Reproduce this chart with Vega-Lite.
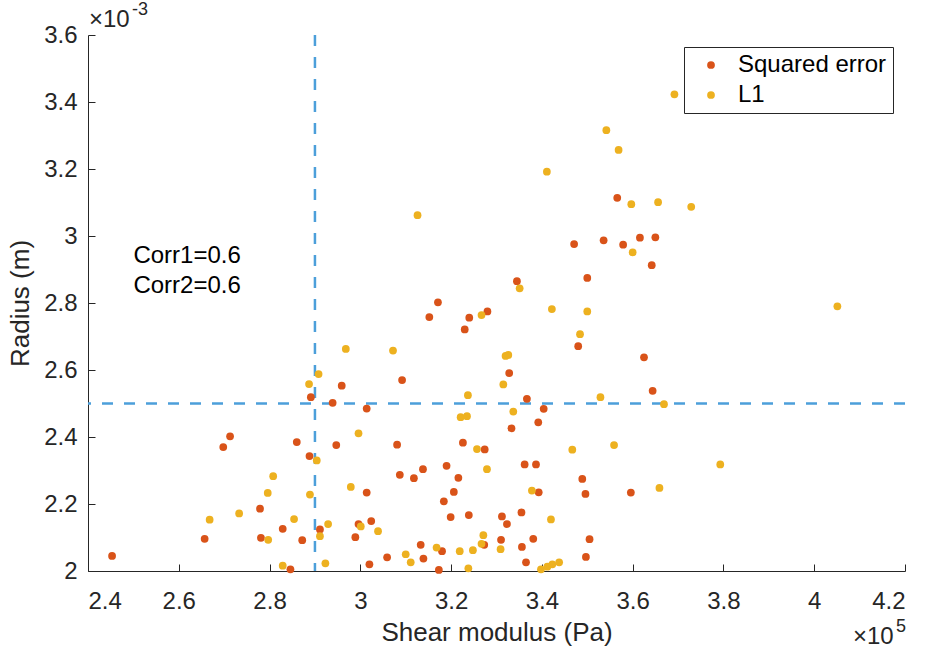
{
  "$schema": "https://vega.github.io/schema/vega-lite/v6.json",
  "width": 817,
  "height": 536,
  "autosize": {"type": "none"},
  "padding": {"left": 88, "top": 35, "right": 20, "bottom": 80},
  "background": "white",
  "config": {
    "view": {"stroke": null},
    "axis": {
      "domainColor": "#262626", "domainWidth": 1, "tickColor": "#262626", "tickWidth": 1, "tickSize": -7,
      "labelFont": "Liberation Sans", "labelFontSize": 24, "labelColor": "#262626",
      "titleFont": "Liberation Sans", "titleFontSize": 26, "titleFontWeight": "normal", "titleColor": "#262626",
      "grid": false
    },
    "legend": {
      "orient": "top-right", "offset": 12, "strokeColor": "#262626", "fillColor": "white", "padding": 6,
      "cornerRadius": 0, "symbolType": "circle", "symbolSize": 60, "symbolOffset": 9, "labelOffset": 15,
      "labelFont": "Liberation Sans", "labelFontSize": 24, "labelColor": "#000000", "labelLimit": 400, "rowPadding": 6
    }
  },
  "datasets": {
    "points": [
      {"series": "Squared error", "shear_modulus": 356600, "radius": 0.003114},
      {"series": "Squared error", "shear_modulus": 347100, "radius": 0.002976},
      {"series": "Squared error", "shear_modulus": 353600, "radius": 0.002987},
      {"series": "Squared error", "shear_modulus": 357900, "radius": 0.002974},
      {"series": "Squared error", "shear_modulus": 361600, "radius": 0.002995},
      {"series": "Squared error", "shear_modulus": 365000, "radius": 0.002996},
      {"series": "Squared error", "shear_modulus": 364200, "radius": 0.002913},
      {"series": "Squared error", "shear_modulus": 334500, "radius": 0.002865},
      {"series": "Squared error", "shear_modulus": 350000, "radius": 0.002875},
      {"series": "Squared error", "shear_modulus": 317100, "radius": 0.002802},
      {"series": "Squared error", "shear_modulus": 315200, "radius": 0.002758},
      {"series": "Squared error", "shear_modulus": 324000, "radius": 0.002756},
      {"series": "Squared error", "shear_modulus": 328000, "radius": 0.002775},
      {"series": "Squared error", "shear_modulus": 323000, "radius": 0.002721},
      {"series": "Squared error", "shear_modulus": 348000, "radius": 0.002671},
      {"series": "Squared error", "shear_modulus": 309200, "radius": 0.002570},
      {"series": "Squared error", "shear_modulus": 332800, "radius": 0.002591},
      {"series": "Squared error", "shear_modulus": 362500, "radius": 0.002638},
      {"series": "Squared error", "shear_modulus": 364400, "radius": 0.002538},
      {"series": "Squared error", "shear_modulus": 336700, "radius": 0.002514},
      {"series": "Squared error", "shear_modulus": 340400, "radius": 0.002484},
      {"series": "Squared error", "shear_modulus": 339200, "radius": 0.002444},
      {"series": "Squared error", "shear_modulus": 295900, "radius": 0.002553},
      {"series": "Squared error", "shear_modulus": 289100, "radius": 0.002519},
      {"series": "Squared error", "shear_modulus": 293900, "radius": 0.002502},
      {"series": "Squared error", "shear_modulus": 301400, "radius": 0.002485},
      {"series": "Squared error", "shear_modulus": 245300, "radius": 0.002045},
      {"series": "Squared error", "shear_modulus": 269800, "radius": 0.002370},
      {"series": "Squared error", "shear_modulus": 271300, "radius": 0.002402},
      {"series": "Squared error", "shear_modulus": 265700, "radius": 0.002096},
      {"series": "Squared error", "shear_modulus": 277900, "radius": 0.002186},
      {"series": "Squared error", "shear_modulus": 278100, "radius": 0.002099},
      {"series": "Squared error", "shear_modulus": 282900, "radius": 0.002126},
      {"series": "Squared error", "shear_modulus": 286000, "radius": 0.002385},
      {"series": "Squared error", "shear_modulus": 288800, "radius": 0.002343},
      {"series": "Squared error", "shear_modulus": 294700, "radius": 0.002376},
      {"series": "Squared error", "shear_modulus": 287200, "radius": 0.002092},
      {"series": "Squared error", "shear_modulus": 291100, "radius": 0.002124},
      {"series": "Squared error", "shear_modulus": 284600, "radius": 0.002005},
      {"series": "Squared error", "shear_modulus": 301400, "radius": 0.002234},
      {"series": "Squared error", "shear_modulus": 299600, "radius": 0.002140},
      {"series": "Squared error", "shear_modulus": 302400, "radius": 0.002149},
      {"series": "Squared error", "shear_modulus": 298900, "radius": 0.002101},
      {"series": "Squared error", "shear_modulus": 302000, "radius": 0.002020},
      {"series": "Squared error", "shear_modulus": 333300, "radius": 0.002426},
      {"series": "Squared error", "shear_modulus": 308100, "radius": 0.002377},
      {"series": "Squared error", "shear_modulus": 308700, "radius": 0.002287},
      {"series": "Squared error", "shear_modulus": 311800, "radius": 0.002277},
      {"series": "Squared error", "shear_modulus": 313800, "radius": 0.002304},
      {"series": "Squared error", "shear_modulus": 305900, "radius": 0.002041},
      {"series": "Squared error", "shear_modulus": 313300, "radius": 0.002078},
      {"series": "Squared error", "shear_modulus": 313900, "radius": 0.002037},
      {"series": "Squared error", "shear_modulus": 318000, "radius": 0.002059},
      {"series": "Squared error", "shear_modulus": 317300, "radius": 0.002003},
      {"series": "Squared error", "shear_modulus": 322600, "radius": 0.002383},
      {"series": "Squared error", "shear_modulus": 319000, "radius": 0.002314},
      {"series": "Squared error", "shear_modulus": 321600, "radius": 0.002278},
      {"series": "Squared error", "shear_modulus": 320600, "radius": 0.002236},
      {"series": "Squared error", "shear_modulus": 318400, "radius": 0.002208},
      {"series": "Squared error", "shear_modulus": 319900, "radius": 0.002161},
      {"series": "Squared error", "shear_modulus": 323900, "radius": 0.002167},
      {"series": "Squared error", "shear_modulus": 327400, "radius": 0.002363},
      {"series": "Squared error", "shear_modulus": 327300, "radius": 0.002078},
      {"series": "Squared error", "shear_modulus": 331200, "radius": 0.002163},
      {"series": "Squared error", "shear_modulus": 332300, "radius": 0.002140},
      {"series": "Squared error", "shear_modulus": 331000, "radius": 0.002093},
      {"series": "Squared error", "shear_modulus": 335500, "radius": 0.002175},
      {"series": "Squared error", "shear_modulus": 335600, "radius": 0.002072},
      {"series": "Squared error", "shear_modulus": 336500, "radius": 0.002026},
      {"series": "Squared error", "shear_modulus": 336200, "radius": 0.002318},
      {"series": "Squared error", "shear_modulus": 338700, "radius": 0.002318},
      {"series": "Squared error", "shear_modulus": 339300, "radius": 0.002235},
      {"series": "Squared error", "shear_modulus": 338100, "radius": 0.002096},
      {"series": "Squared error", "shear_modulus": 348900, "radius": 0.002275},
      {"series": "Squared error", "shear_modulus": 349600, "radius": 0.002230},
      {"series": "Squared error", "shear_modulus": 359600, "radius": 0.002234},
      {"series": "Squared error", "shear_modulus": 350500, "radius": 0.002095},
      {"series": "Squared error", "shear_modulus": 349700, "radius": 0.002042},
      {"series": "L1", "shear_modulus": 312600, "radius": 0.003062},
      {"series": "L1", "shear_modulus": 341100, "radius": 0.003192},
      {"series": "L1", "shear_modulus": 354200, "radius": 0.003316},
      {"series": "L1", "shear_modulus": 356900, "radius": 0.003257},
      {"series": "L1", "shear_modulus": 359700, "radius": 0.003095},
      {"series": "L1", "shear_modulus": 365600, "radius": 0.003101},
      {"series": "L1", "shear_modulus": 369200, "radius": 0.003423},
      {"series": "L1", "shear_modulus": 372900, "radius": 0.003087},
      {"series": "L1", "shear_modulus": 360000, "radius": 0.002951},
      {"series": "L1", "shear_modulus": 335100, "radius": 0.002844},
      {"series": "L1", "shear_modulus": 326700, "radius": 0.002764},
      {"series": "L1", "shear_modulus": 342200, "radius": 0.002782},
      {"series": "L1", "shear_modulus": 350000, "radius": 0.002775},
      {"series": "L1", "shear_modulus": 348400, "radius": 0.002707},
      {"series": "L1", "shear_modulus": 307200, "radius": 0.002658},
      {"series": "L1", "shear_modulus": 332000, "radius": 0.002642},
      {"series": "L1", "shear_modulus": 332600, "radius": 0.002645},
      {"series": "L1", "shear_modulus": 331500, "radius": 0.002557},
      {"series": "L1", "shear_modulus": 352900, "radius": 0.002519},
      {"series": "L1", "shear_modulus": 323700, "radius": 0.002525},
      {"series": "L1", "shear_modulus": 333700, "radius": 0.002476},
      {"series": "L1", "shear_modulus": 366900, "radius": 0.002498},
      {"series": "L1", "shear_modulus": 322100, "radius": 0.002459},
      {"series": "L1", "shear_modulus": 323500, "radius": 0.002462},
      {"series": "L1", "shear_modulus": 405100, "radius": 0.002790},
      {"series": "L1", "shear_modulus": 296800, "radius": 0.002663},
      {"series": "L1", "shear_modulus": 290800, "radius": 0.002588},
      {"series": "L1", "shear_modulus": 288700, "radius": 0.002558},
      {"series": "L1", "shear_modulus": 266800, "radius": 0.002153},
      {"series": "L1", "shear_modulus": 273300, "radius": 0.002172},
      {"series": "L1", "shear_modulus": 280800, "radius": 0.002283},
      {"series": "L1", "shear_modulus": 279600, "radius": 0.002233},
      {"series": "L1", "shear_modulus": 279700, "radius": 0.002093},
      {"series": "L1", "shear_modulus": 285400, "radius": 0.002155},
      {"series": "L1", "shear_modulus": 290400, "radius": 0.002330},
      {"series": "L1", "shear_modulus": 288900, "radius": 0.002228},
      {"series": "L1", "shear_modulus": 292900, "radius": 0.002140},
      {"series": "L1", "shear_modulus": 291100, "radius": 0.002104},
      {"series": "L1", "shear_modulus": 282900, "radius": 0.002016},
      {"series": "L1", "shear_modulus": 292300, "radius": 0.002023},
      {"series": "L1", "shear_modulus": 299600, "radius": 0.002411},
      {"series": "L1", "shear_modulus": 297900, "radius": 0.002251},
      {"series": "L1", "shear_modulus": 300100, "radius": 0.002133},
      {"series": "L1", "shear_modulus": 303900, "radius": 0.002119},
      {"series": "L1", "shear_modulus": 310000, "radius": 0.002050},
      {"series": "L1", "shear_modulus": 311100, "radius": 0.002026},
      {"series": "L1", "shear_modulus": 316800, "radius": 0.002070},
      {"series": "L1", "shear_modulus": 325700, "radius": 0.002364},
      {"series": "L1", "shear_modulus": 327900, "radius": 0.002304},
      {"series": "L1", "shear_modulus": 321900, "radius": 0.002059},
      {"series": "L1", "shear_modulus": 324800, "radius": 0.002062},
      {"series": "L1", "shear_modulus": 323800, "radius": 0.002008},
      {"series": "L1", "shear_modulus": 327100, "radius": 0.002107},
      {"series": "L1", "shear_modulus": 326700, "radius": 0.002081},
      {"series": "L1", "shear_modulus": 330900, "radius": 0.002065},
      {"series": "L1", "shear_modulus": 337800, "radius": 0.002240},
      {"series": "L1", "shear_modulus": 342000, "radius": 0.002154},
      {"series": "L1", "shear_modulus": 339800, "radius": 0.002005},
      {"series": "L1", "shear_modulus": 341200, "radius": 0.002013},
      {"series": "L1", "shear_modulus": 342300, "radius": 0.002020},
      {"series": "L1", "shear_modulus": 343800, "radius": 0.002026},
      {"series": "L1", "shear_modulus": 346700, "radius": 0.002362},
      {"series": "L1", "shear_modulus": 355900, "radius": 0.002376},
      {"series": "L1", "shear_modulus": 365900, "radius": 0.002248},
      {"series": "L1", "shear_modulus": 379300, "radius": 0.002318}
    ],
    "notes": [
      {"label": "Corr1=0.6", "shear_modulus": 250000, "radius": 0.00294},
      {"label": "Corr2=0.6", "shear_modulus": 250000, "radius": 0.002851}
    ]
  },
  "layer": [
    {
      "data": {"values": [{"shear_modulus": 290000}]},
      "mark": {"type": "rule", "color": "#4C9FDA", "strokeWidth": 2.5, "strokeDash": [11, 11]},
      "encoding": {"x": {"field": "shear_modulus", "type": "quantitative", "scale": {"domain": [240000, 420000], "nice": false, "zero": false}}}
    },
    {
      "data": {"values": [{"radius": 0.0025}]},
      "mark": {"type": "rule", "color": "#4C9FDA", "strokeWidth": 2.5, "strokeDash": [11, 11]},
      "encoding": {"y": {"field": "radius", "type": "quantitative", "scale": {"domain": [0.002, 0.0036], "nice": false, "zero": false}}}
    },
    {
      "data": {"name": "points"},
      "mark": {"type": "point", "filled": true, "size": 60, "opacity": 1, "shape": "circle"},
      "encoding": {
        "x": {
          "field": "shear_modulus", "type": "quantitative",
          "scale": {"domain": [240000, 420000], "nice": false, "zero": false},
          "axis": {
            "title": "Shear modulus (Pa)",
            "values": [240000, 260000, 280000, 300000, 320000, 340000, 360000, 380000, 400000, 420000],
            "labelExpr": "format(datum.value / 100000, '~g')",
            "labelPadding": 25, "titlePadding": 6
          }
        },
        "y": {
          "field": "radius", "type": "quantitative",
          "scale": {"domain": [0.002, 0.0036], "nice": false, "zero": false},
          "axis": {
            "title": "Radius (m)",
            "values": [0.002, 0.0022, 0.0024, 0.0026, 0.0028, 0.003, 0.0032, 0.0034, 0.0036],
            "labelExpr": "format(datum.value * 1000, '~g')",
            "labelPadding": 18, "titlePadding": 10
          }
        },
        "color": {
          "field": "series", "type": "nominal",
          "scale": {"domain": ["Squared error", "L1"], "range": ["#D95319", "#EDB120"]},
          "legend": {"title": null}
        }
      }
    },
    {
      "data": {"name": "notes"},
      "mark": {"type": "text", "align": "left", "baseline": "middle", "font": "Liberation Sans", "fontSize": 24, "color": "#000000"},
      "encoding": {
        "x": {"field": "shear_modulus", "type": "quantitative"},
        "y": {"field": "radius", "type": "quantitative"},
        "text": {"field": "label"}
      }
    },
    {
      "data": {"values": [{"label": "×10", "shear_modulus": 240000, "radius": 0.0036}]},
      "mark": {"type": "text", "align": "left", "baseline": "alphabetic", "font": "Liberation Sans", "fontSize": 24, "color": "#262626", "dy": -8, "dx": 1},
      "encoding": {
        "x": {"field": "shear_modulus", "type": "quantitative"},
        "y": {"field": "radius", "type": "quantitative"},
        "text": {"field": "label"}
      }
    },
    {
      "data": {"values": [{"label": "-3", "shear_modulus": 240000, "radius": 0.0036}]},
      "mark": {"type": "text", "align": "left", "baseline": "alphabetic", "font": "Liberation Sans", "fontSize": 18, "color": "#262626", "dy": -20, "dx": 44},
      "encoding": {
        "x": {"field": "shear_modulus", "type": "quantitative"},
        "y": {"field": "radius", "type": "quantitative"},
        "text": {"field": "label"}
      }
    },
    {
      "data": {"values": [{"label": "×10", "shear_modulus": 420000, "radius": 0.002}]},
      "mark": {"type": "text", "align": "left", "baseline": "alphabetic", "font": "Liberation Sans", "fontSize": 24, "color": "#262626", "dy": 73, "dx": -52},
      "encoding": {
        "x": {"field": "shear_modulus", "type": "quantitative"},
        "y": {"field": "radius", "type": "quantitative"},
        "text": {"field": "label"}
      }
    },
    {
      "data": {"values": [{"label": "5", "shear_modulus": 420000, "radius": 0.002}]},
      "mark": {"type": "text", "align": "left", "baseline": "alphabetic", "font": "Liberation Sans", "fontSize": 18, "color": "#262626", "dy": 61, "dx": -9},
      "encoding": {
        "x": {"field": "shear_modulus", "type": "quantitative"},
        "y": {"field": "radius", "type": "quantitative"},
        "text": {"field": "label"}
      }
    }
  ]
}
